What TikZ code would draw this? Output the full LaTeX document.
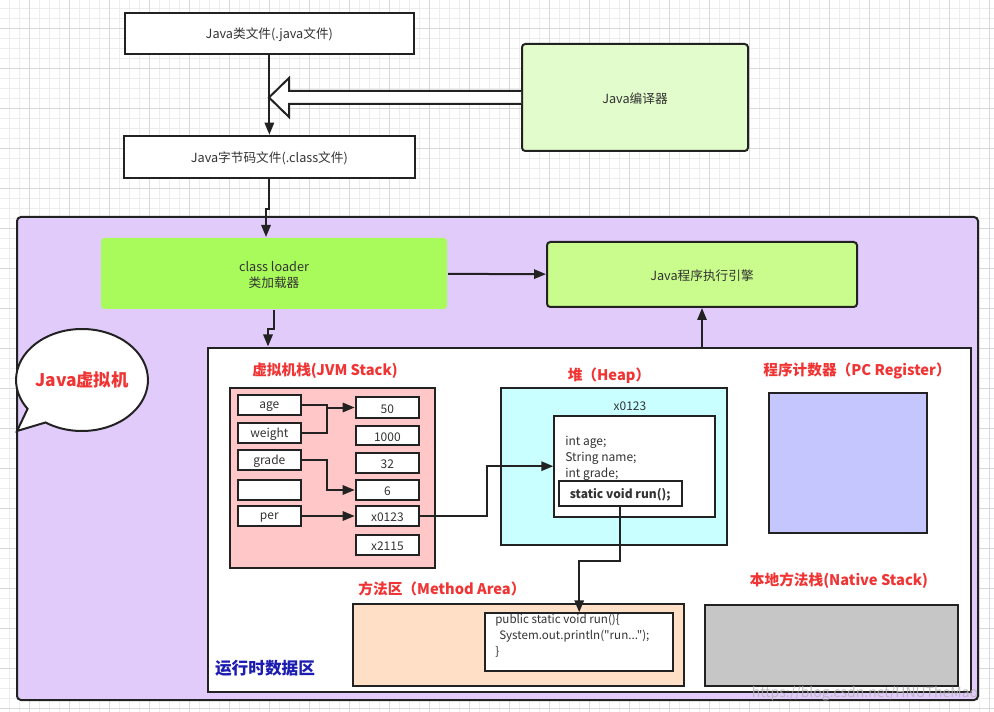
\documentclass[tikz,border=0pt]{standalone}
\usepackage{fontspec}
\setmainfont{Noto Sans CJK SC}
\newfontfamily\codefont{Noto Sans CJK SC}[Ligatures=TeXOff]
\usetikzlibrary{fit,calc,shapes.callouts,arrows.meta}
\definecolor{bd}{HTML}{222222}
\definecolor{txt}{HTML}{333333}
\definecolor{purp}{HTML}{E1CBFB}
\definecolor{compg}{HTML}{E3FCCB}
\definecolor{clg}{HTML}{A9FB5C}
\definecolor{engg}{HTML}{C9FC8C}
\definecolor{stackc}{HTML}{FFC7C7}
\definecolor{heapc}{HTML}{C9FFFF}
\definecolor{pcc}{HTML}{C6C6FF}
\definecolor{mac}{HTML}{FFDFC6}
\definecolor{nsc}{HTML}{C6C6C6}
\definecolor{redt}{HTML}{F03333}
\definecolor{bluet}{HTML}{1C1CB0}
\definecolor{gmin}{HTML}{EDEDED}
\definecolor{gmaj}{HTML}{D8D8D8}
\begin{document}
\begin{tikzpicture}[x=0.75pt,y=-0.75pt,
  box/.style={draw=bd, line width=1.5pt, inner sep=0pt},
  rbox/.style={box, rounded corners=2.5pt},
  tl/.style={text=txt, align=center, inner sep=0pt, yshift=-1pt, font=\fontsize{9.5}{12.5}\selectfont},
  ctl/.style={tl, font=\fontsize{9}{11}\selectfont},
  cell/.style={box, fill=white},
  area/.style={draw=bd, line width=1.5pt, inner sep=0pt},
  redlbl/.style={text=redt, font=\fontsize{11}{13}\selectfont\bfseries, inner sep=0pt},
  conn/.style={draw=bd, line width=1.5pt, -{Triangle[length=9pt,width=7pt]}},
  plain/.style={draw=bd, line width=1.5pt},
  hollow/.style={draw=bd, line width=1.5pt, fill=white, line join=miter}
]
\useasboundingbox (0,0) rectangle (994,712);
\fill[white] (0,0) rectangle (994,712);
% background grid
\begin{scope}[shift={(9,8)}]
  \draw[gmin, line width=0.4pt, step=7.5pt] (-10,-10) grid (990,710);
\end{scope}
\begin{scope}[shift={(29,28)}]
  \draw[gmaj, line width=0.5pt, step=30pt] (-40,-40) grid (970,690);
\end{scope}

% top flow
\node[box, fit={(125,12.7) (413.7,54)}, fill=white, label={[tl]center:{Java类文件(.java文件)}}] (src) {};
\node[box, fit={(123.7,135.7) (415,178)}, fill=white, label={[tl]center:{Java字节码文件(.class文件)}}] (bc) {};
\node[rbox, fit={(522,44) (748,151)}, fill=compg, label={[tl]center:{Java编译器}}] (comp) {};

% JVM area
\node[area, fit={(17,217) (978,700)}, fill=purp, rounded corners=3pt] (jvm) {};
\node[box, draw=none, fit={(101,238) (447,309)}, fill=clg, rounded corners=2.5pt, label={[tl]center:{class loader\\类加载器}}] (cl) {};
\node[rbox, fit={(547,242) (857,307)}, fill=engg, label={[tl]center:{Java程序执行引擎}}] (eng) {};
\node[area, fit={(208,347.5) (971,692)}, fill=white] (rt) {};

% bubble
\node[ellipse callout, draw=bd, line width=1.5pt, fill=white, minimum width=97.5pt, minimum height=76.5pt, inner sep=0pt,
      callout absolute pointer={(17,431)}, callout pointer arc=22,
      text=redt, font=\fontsize{13}{15}\selectfont\bfseries] (bub) at (82,380) {Java虚拟机};

% hollow compile arrow
\draw[hollow] (comp.west) ++(0,-6.5) -- ++(-232,0) -- ++(0,-13) -- ++(-20,19.5) -- ++(20,19.5) -- ++(0,-13) -- ++(232,0);

% connectors top
\draw[conn] (src) -- (bc);
\draw[conn] (bc.south) -- ++(0,30) -| ([xshift=-2.5pt]bc.south |- cl.north);
\draw[conn] (cl) -- (eng);
\draw[conn] (cl.south) -- ++(0,19) -| ([xshift=-4.5pt]cl.south |- rt.north);
\draw[conn] (rt.north -| eng.south) -- (eng.south);

% labels
\node[redlbl] (stackl) at (325,371) {虚拟机栈(JVM Stack)};
\node[redlbl] (heapl) at (609,376) {堆（Heap）};
\node[redlbl] (pcl) at (857,371) {程序计数器（PC Register）};
\node[redlbl] (mal) at (442,589) {方法区（Method Area）};
\node[redlbl] (nsl) at (839,581) {本地方法栈(Native Stack)};
\node[text=bluet, font=\fontsize{12.5}{14}\selectfont\bfseries, inner sep=0pt] (rtl) at (265,668) {运行时数据区};

% JVM stack
\node[area, fit={(230,387.7) (435,567.7)}, fill=stackc] (stk) {};
\node[cell, fit={(237.7,395) (301,415)}, label={[ctl]center:age}] (age) {};
\node[cell, fit={(237.7,423.3) (301,442.7)}, label={[ctl]center:weight}] (wt) {};
\node[cell, fit={(237.7,450) (301,470)}, label={[ctl]center:grade}] (gr) {};
\node[cell, fit={(237.7,480) (301,500)}] (emp) {};
\node[cell, fit={(237.7,506) (301,526)}, label={[ctl]center:per}] (per) {};
\node[cell, fit={(355.7,397.3) (419,417.7)}, label={[ctl]center:50}] (v50) {};
\node[cell, fit={(355.7,425.7) (419,445.3)}, label={[ctl]center:1000}] (v1000) {};
\node[cell, fit={(355.7,452.7) (419,472.7)}, label={[ctl]center:32}] (v32) {};
\node[cell, fit={(355.7,480) (419,500)}, label={[ctl]center:6}] (v6) {};
\node[cell, fit={(355.7,506) (419,526)}, label={[ctl]center:x0123}] (vx) {};
\node[cell, fit={(355.7,535) (419,555)}, label={[ctl]center:x2115}] (vy) {};
\coordinate (jA) at ($(v50.west)+(-27.7,0)$);
\draw[plain] (age.east) -| (jA);
\draw[plain] (wt.east) -| (jA);
\draw[conn] (jA) -- (v50.west);
\draw[conn] (gr.east) -- (gr.east -| jA) |- (v6.west);
\draw[conn] (per) -- (vx);

% heap
\node[area, fit={(500.7,387.7) (727,545)}, fill=heapc] (heap) {};
\node[ctl] (ht) at (630,405) {x0123};
\node[area, fit={(554.3,415.7) (715,516.7)}, fill=white] (obj) {};
\node[anchor=west, align=left, text=txt, font=\fontsize{9}{12}\selectfont, inner sep=0pt] (flds) at (565,458) {int age;\\String name;\\int grade;};
\node[cell, fit={(558.7,480.7) (681.7,505.7)}, label={[ctl, font=\fontsize{9}{11}\selectfont\bfseries]center:{static void run();}}] (st) {};
\coordinate (mx) at ($(vx.east)!.5!(obj.west)$);
\draw[conn] (vx.east) -| (mx) |- (obj.west);

% PC register
\node[area, fit={(769.3,392.7) (927,532.7)}, fill=pcc] (pc) {};

% method area
\node[area, fit={(352.5,604.3) (683.7,686)}, fill=mac] (ma) {};
\node[area, fit={(485.4,613.3) (673,671)}, fill=white] (code) {};
\node[anchor=north west, align=left, text=txt, font=\codefont\fontsize{8.7}{12}\selectfont, inner sep=0pt] (codet) at (495,613.5)
  {public static void run()\{\\\hspace*{3pt}System.out.println("run...");\\\}};
\draw[conn] (st.south) -- ++(0,54) -| (code.north);

% native stack
\node[area, fit={(705.4,604.7) (958,686)}, fill=nsc] (ns) {};

% watermark
\node[text=black!30, text opacity=0.8, font=\fontsize{10.5}{12}\selectfont, inner sep=0pt] (wm) at (865,694) {https://blog.csdn.net/HNUTheMao};
\end{tikzpicture}
\end{document}
